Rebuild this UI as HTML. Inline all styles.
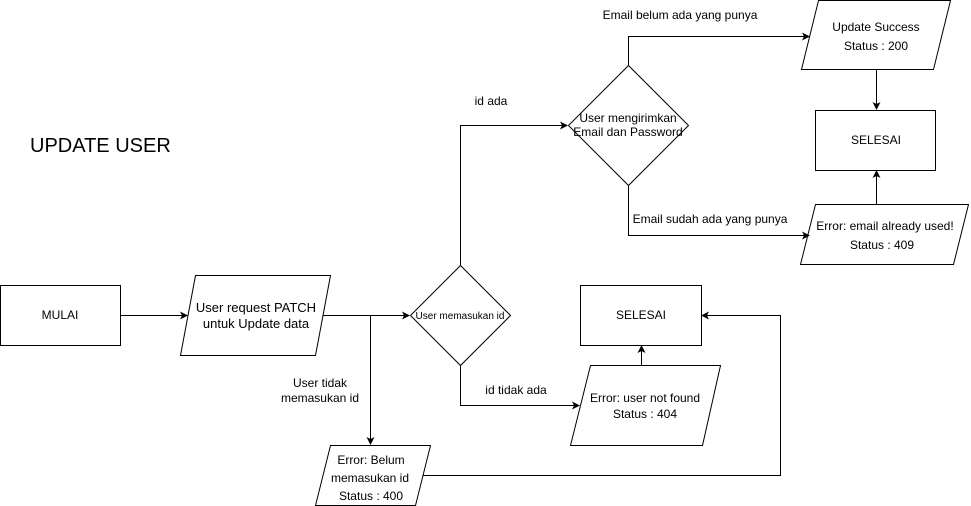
<!DOCTYPE html>
<html><head><meta charset="utf-8"><style>
html,body{margin:0;padding:0;background:#fff;}
svg{display:block;}
text{font-family:"Liberation Sans",Arial,sans-serif;font-size:12px;fill:#000;}
</style></head><body>
<svg width="971" height="506" viewBox="0 0 971 506" xmlns="http://www.w3.org/2000/svg">
<defs><marker id="a" markerWidth="8" markerHeight="8" refX="7" refY="4" orient="auto" markerUnits="userSpaceOnUse"><path d="M0,0 L8,4 L0,8 L2,4 Z" fill="#000"/></marker></defs>
<g fill="#fff" stroke="#000" stroke-width="1">
<rect x="0.5" y="285.5" width="120" height="60"/>
<polygon points="195.5,275.5 330.5,275.5 315.5,355.5 180.5,355.5"/>
<polygon points="460.5,265.5 510.5,315.5 460.5,365.5 410.5,315.5"/>
<polygon points="628.5,65.5 688.5,125.5 628.5,185.5 568.5,125.5"/>
<polygon points="818.5,0.5 950.5,0.5 933.5,69.5 801.5,69.5"/>
<rect x="815.5" y="110.5" width="120" height="60"/>
<polygon points="815.5,204.5 968.5,204.5 953.5,264.5 800.5,264.5"/>
<rect x="580.5" y="285.5" width="121" height="60"/>
<polygon points="590.5,365.5 720.5,365.5 702.5,445.5 570.5,445.5"/>
<polygon points="330.5,445.5 430.5,445.5 415.5,505.5 315.5,505.5"/>
</g>
<g fill="none" stroke="#000" stroke-width="1">
<path d="M120.5,315.5 H187" marker-end="url(#a)"/>
<path d="M323,315.5 H409" marker-end="url(#a)"/>
<path d="M370.5,315.5 V444" marker-end="url(#a)"/>
<path d="M460.5,265 V125.5 H567" marker-end="url(#a)"/>
<path d="M460.5,366 V405.5 H579" marker-end="url(#a)"/>
<path d="M628.5,65 V36.5 H809" marker-end="url(#a)"/>
<path d="M628.5,186 V235.5 H809" marker-end="url(#a)"/>
<path d="M876.5,70 V109" marker-end="url(#a)"/>
<path d="M876.5,204 V171" marker-end="url(#a)"/>
<path d="M641.5,365 V346" marker-end="url(#a)"/>
<path d="M423,475.5 H780.5 V315.5 H702" marker-end="url(#a)"/>
</g>
<text x="30" y="152" style="font-size:20px">UPDATE USER</text>
<g text-anchor="middle">
<text x="60" y="319">MULAI</text>
<text x="256" y="312" style="font-size:13px">User request PATCH</text>
<text x="256" y="328" style="font-size:13px">untuk Update data</text>
<text x="460" y="319" style="font-size:10px">User memasukan id</text>
<text x="628" y="122">User mengirimkan</text>
<text x="628" y="136">Email dan Password</text>
<text x="876" y="31">Update Success</text>
<text x="876" y="50">Status : 200</text>
<text x="876" y="144">SELESAI</text>
<text x="885" y="230">Error: email already used!</text>
<text x="882" y="249">Status : 409</text>
<text x="641" y="319">SELESAI</text>
<text x="645" y="402">Error: user not found</text>
<text x="645" y="418">Status : 404</text>
<text x="371" y="464">Error: Belum</text>
<text x="370" y="482">memasukan id</text>
<text x="371" y="500">Status : 400</text>
<text x="320" y="387">User tidak</text>
<text x="320" y="402">memasukan id</text>
<text x="491" y="105">id ada</text>
<text x="516" y="394">id tidak ada</text>
<text x="680" y="19">Email belum ada yang punya</text>
<text x="710" y="223">Email sudah ada yang punya</text>
</g>
</svg>
</body></html>
